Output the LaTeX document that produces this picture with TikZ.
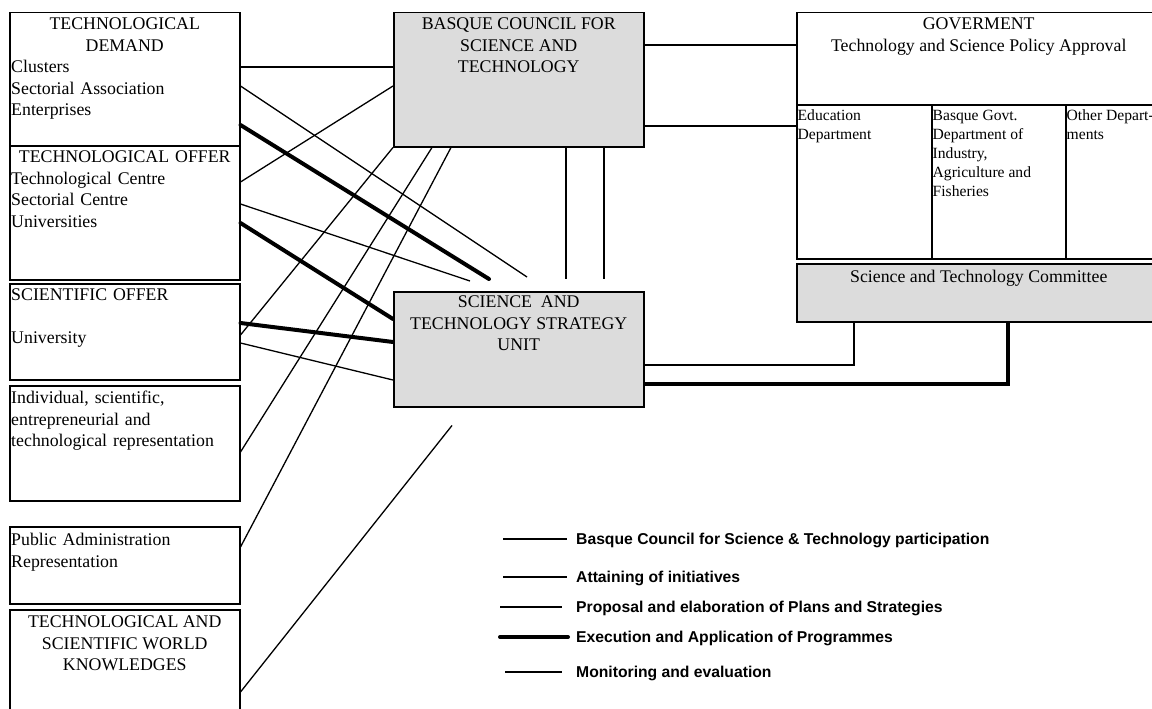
\documentclass[tikz,border=0pt]{standalone}
\usepackage{fontspec}
\setmainfont{Liberation Serif}
\newfontfamily\legendfont{Liberation Sans}
\setlength{\parindent}{0pt}
\definecolor{panelgrey}{RGB}{220,220,220}
\tikzset{
  box/.style={draw, line width=1.5pt, anchor=north west, inner sep=0pt},
  shaded/.style={fill=panelgrey},
  txt/.style={anchor=north, inner xsep=1.5pt, inner ysep=6pt, align=left,
    font=\fontsize{17.8pt}{21.5pt}\selectfont},
  dept/.style={anchor=north west, inner xsep=1.5pt, inner ysep=5.5pt, align=left,
    font=\fontsize{15.6pt}{19.2pt}\selectfont},
  link/.style={line width=1.3pt},
  heavy/.style={line width=4pt, line cap=round},
  key/.style={anchor=west, inner sep=0pt, font=\legendfont\bfseries\fontsize{15.7pt}{18pt}\selectfont}
}
\begin{document}
\begin{tikzpicture}[x=1pt, y=-1pt]
\useasboundingbox (0,0) rectangle (1152,709);
\clip (0,0) rectangle (1152,709);

% left column
\node[box, minimum width=230pt, minimum height=133pt] (dem) at (9,12) {};
\node[box, minimum width=230pt, minimum height=134pt] (off) at (9,145) {};
\node[box, minimum width=230pt, minimum height=96pt] (sci) at (9,283) {};
\node[box, minimum width=230pt, minimum height=115pt] (ind) at (9,385) {};
\node[box, minimum width=230pt, minimum height=77pt] (pub) at (9,526) {};
\node[box, minimum width=230pt, minimum height=106pt] (wk) at (9,609) {};

\node[txt, text width=227pt] (demtxt) at (dem.north)
  {{\centering TECHNOLOGICAL\\DEMAND\par}Clusters\\Sectorial Association\\Enterprises};
\node[txt, text width=227pt] (offtxt) at (off.north)
  {{\centering TECHNOLOGICAL OFFER\par}Technological Centre\\Sectorial Centre\\Universities};
\node[txt, text width=227pt] (scitxt) at (sci.north) {SCIENTIFIC OFFER\\[21.5pt]University};
\node[txt, text width=227pt] (indtxt) at (ind.north)
  {Individual, scientific,\\entrepreneurial and\\technological representation};
\node[txt, text width=227pt, inner ysep=7pt] (pubtxt) at (pub.north) {Public Administration\\Representation};
\node[txt, align=center, inner ysep=7pt] (wktxt) at (wk.north)
  {TECHNOLOGICAL AND\\SCIENTIFIC WORLD\\KNOWLEDGES};

% centre column
\node[box, shaded, minimum width=250pt, minimum height=134pt] (bcst) at (393,12) {};
\node[box, shaded, minimum width=250pt, minimum height=115pt] (stsu) at (393,291) {};
\node[txt, align=center] (bcsttxt) at (bcst.north) {BASQUE COUNCIL FOR\\SCIENCE AND\\TECHNOLOGY};
\node[txt, align=center, inner ysep=5pt] (stsutxt) at (stsu.north)
  {SCIENCE\ \ AND\\TECHNOLOGY STRATEGY\\UNIT};

% right column
\node[box, minimum width=364pt, minimum height=92pt] (gov) at (796,12) {};
\node[box, minimum width=135pt, minimum height=154pt] (edu) at (796,104) {};
\node[box, minimum width=134pt, minimum height=154pt] (indep) at (931,104) {};
\node[box, minimum width=95pt, minimum height=154pt] (oth) at (1065,104) {};
\node[box, shaded, minimum width=364pt, minimum height=58pt] (com) at (796,263) {};
\node[txt, align=center] (govtxt) at (gov.north) {GOVERMENT\\Technology and Science Policy Approval};
\node[dept] (edutxt) at (edu.north west) {Education\\Department};
\node[dept] (indeptxt) at (indep.north west)
  {Basque Govt.\\Department of\\Industry,\\Agriculture and\\Fisheries};
\node[dept] (othtxt) at (oth.north west) {Other Depart-\\ments};
\node[txt, align=center, inner ysep=7pt] (comtxt) at (com.north) {Science and Technology Committee};

% connectors
\draw[link] ([yshift=-55pt]dem.north east) -- ([yshift=-55pt]bcst.north west);
\draw[link] ([yshift=-74pt]dem.north east) -- ([xshift=134pt,yshift=14pt]stsu.north west);
\draw[heavy] ([yshift=-113pt]dem.north east) -- ([xshift=96pt,yshift=12pt]stsu.north west);
\draw[link] ([yshift=-74pt]bcst.north west) -- ([yshift=-37pt]off.north east);
\draw[link] ([yshift=-59pt]off.north east) -- ([xshift=77pt,yshift=10pt]stsu.north west);
\draw[heavy] ([yshift=-78pt]off.north east) -- ([yshift=-28pt]stsu.north west);
\draw[link] (bcst.south west) -- ([yshift=-52pt]sci.north east);
\draw[link] ([xshift=39pt]bcst.south west) -- ([yshift=-67pt]ind.north east);
\draw[link] ([xshift=58pt]bcst.south west) -- ([yshift=-21pt]pub.north east);
\draw[heavy] ([yshift=-40pt]sci.north east) -- ([yshift=-51pt]stsu.north west);
\draw[link] ([yshift=-60pt]sci.north east) -- ([yshift=-89pt]stsu.north west);
\draw[link] ([xshift=59pt,yshift=-18pt]stsu.south west) -- ([yshift=-83pt]wk.north east);
\draw[link] ([xshift=173pt]bcst.south west) -- ([xshift=173pt,yshift=12pt]stsu.north west);
\draw[link] ([xshift=211pt]bcst.south west) -- ([xshift=211pt,yshift=12pt]stsu.north west);
\draw[link] ([yshift=-33pt]bcst.north east) -- ([yshift=-33pt]gov.north west);
\draw[link] ([yshift=-114pt]bcst.north east) -- ([yshift=-22pt]edu.north west);
\draw[link] ([yshift=-74pt]stsu.north east) -| ([xshift=58pt]com.south west);
\draw[heavy, line cap=butt] ([yshift=-93pt]stsu.north east) -| ([xshift=212pt]com.south west);

% legend
\node[key] (k1) at (576,540) {Basque Council for Science \& Technology participation};
\node[key] (k2) at (576,578) {Attaining of initiatives};
\node[key] (k3) at (576,608) {Proposal and elaboration of Plans and Strategies};
\node[key] (k4) at (576,638) {Execution and Application of Programmes};
\node[key] (k5) at (576,673) {Monitoring and evaluation};
\draw[link] ([xshift=-73pt,yshift=1pt]k1.west) -- ([xshift=-9pt,yshift=1pt]k1.west);
\draw[link] ([xshift=-73pt,yshift=1pt]k2.west) -- ([xshift=-9pt,yshift=1pt]k2.west);
\draw[link] ([xshift=-76pt,yshift=1pt]k3.west) -- ([xshift=-14pt,yshift=1pt]k3.west);
\draw[heavy] ([xshift=-76pt,yshift=1pt]k4.west) -- ([xshift=-8pt,yshift=1pt]k4.west);
\draw[link] ([xshift=-71pt,yshift=1pt]k5.west) -- ([xshift=-14pt,yshift=1pt]k5.west);
\end{tikzpicture}
\end{document}
